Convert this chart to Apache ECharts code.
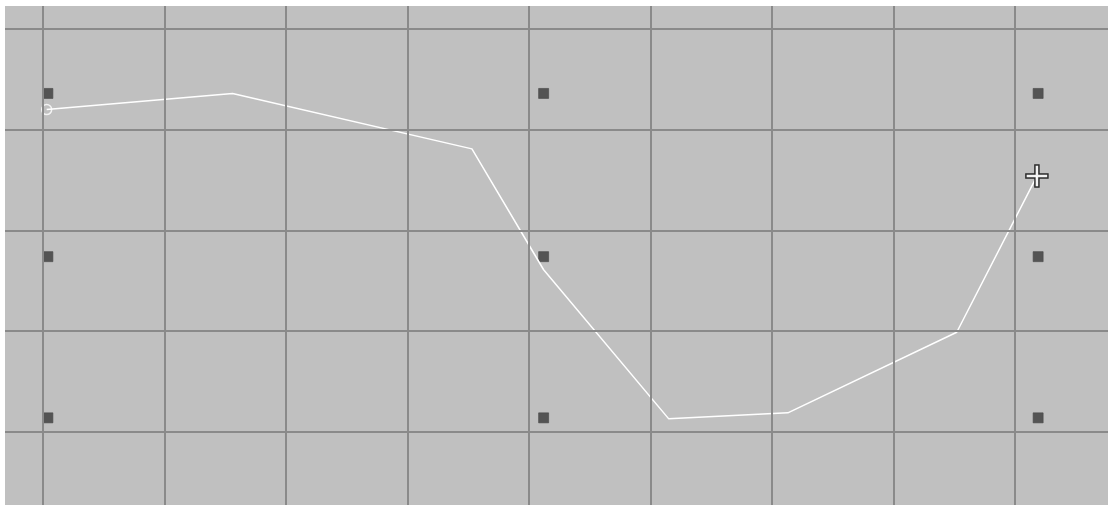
<!DOCTYPE html>
<html>
<head>
<meta charset="utf-8">
<style>
html,body{margin:0;padding:0;background:#fff;}
#c{width:1108px;height:505px;}
</style>
<script src="https://cdn.jsdelivr.net/npm/echarts@6/dist/echarts.min.js"></script>
</head>
<body>
<div id="c"></div>
<script>
// Data in grid-cell units (x: columns, y: rows counted upward)
var lineX = [0.03, 1.56, 3.53, 4.12, 5.15, 6.13, 7.52, 8.18];
var lineY = [3.20, 3.36, 2.81, 1.61, 0.13, 0.19, 0.99, 2.54];
var markerX = [0.04, 4.12, 8.19];
var markerY = [3.36, 1.74, 0.14];
var gridXLines = [0, 1, 2, 3, 4, 5, 6, 7, 8];
var gridYLines = [0, 1, 2, 3, 4];

var linePts = lineX.map(function (x, i) { return [x, lineY[i]]; });
var markerPts = [];
markerY.forEach(function (y) { markerX.forEach(function (x) { markerPts.push([x, y]); }); });
var startPt = [linePts[0]];
var endPt = [linePts[linePts.length - 1]];

var gridMarks = gridXLines.map(function (v) { return { xAxis: v }; })
  .concat(gridYLines.map(function (v) { return { yAxis: v }; }));

var chart = echarts.init(document.getElementById('c'), null, { renderer: 'canvas' });
chart.setOption({
  animation: false,
  backgroundColor: '#ffffff',
  grid: { left: 5, top: 6, right: 0, bottom: 0, show: true, backgroundColor: '#c0c0c0', borderWidth: 0 },
  xAxis: { type: 'value', min: -0.313, max: 8.765, show: false, splitLine: { show: false } },
  yAxis: { type: 'value', min: -0.725, max: 4.228, show: false, splitLine: { show: false } },
  series: [
    {
      type: 'line', data: [], silent: true,
      markLine: {
        silent: true, symbol: 'none', animation: false,
        label: { show: false },
        lineStyle: { type: 'solid', color: '#8a8a8a', width: 2 },
        emphasis: { disabled: true },
        data: gridMarks
      }
    },
    {
      type: 'scatter', data: markerPts, symbol: 'rect', symbolSize: 10, silent: true,
      itemStyle: { color: '#383838', borderColor: '#4a4a4a', borderWidth: 0.8 }
    },
    {
      type: 'line', data: linePts, symbol: 'none', silent: true,
      lineStyle: { color: '#ffffff', width: 1.5 }, z: 3
    },
    {
      type: 'scatter', data: startPt, symbol: 'circle', symbolSize: 10, silent: true,
      itemStyle: { color: 'rgba(0,0,0,0)', borderColor: '#ffffff', borderWidth: 1.5 }, z: 4
    },
    {
      type: 'scatter', data: endPt, silent: true,
      symbol: 'path://M9,0 H13 V9 H22 V13 H13 V22 H9 V13 H0 V9 H9 Z', symbolSize: 22,
      itemStyle: { color: '#ffffff', borderColor: '#000000', borderWidth: 1.5 }, z: 5
    }
  ]
});
</script>
</body>
</html>
